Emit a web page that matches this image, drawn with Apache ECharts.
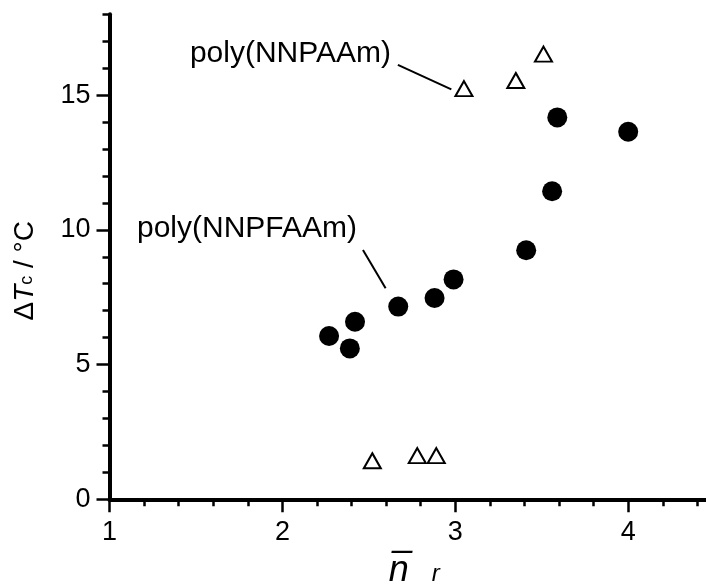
<!DOCTYPE html>
<html>
<head>
<meta charset="utf-8">
<script src="https://cdn.jsdelivr.net/npm/echarts@6/dist/echarts.min.js"></script>
<style>html,body{margin:0;padding:0;background:#fff}#c{width:706px;height:587px}</style>
</head>
<body>
<div id="c"></div>
<script>
// ---- data ----
var nnpfaamX = [2.27, 2.42, 2.39, 2.67, 2.88, 2.99, 3.41, 3.56, 3.59, 4.00];
var nnpfaamY = [6.06, 6.59, 5.60, 7.15, 7.47, 8.16, 9.24, 11.43, 14.17, 13.64];
var nnpaamX = [2.52, 2.78, 2.89, 3.05, 3.35, 3.51];
var nnpaamY = [1.43, 1.62, 1.62, 15.24, 15.54, 16.52];
var xMajorTicks = [1, 2, 3, 4];
var xMinorTicks = [1.2, 1.4, 1.6, 1.8, 2.2, 2.4, 2.6, 2.8, 3.2, 3.4, 3.6, 3.8, 4.2, 4.4];
var yMajorTicks = [0, 5, 10, 15];
var yMinorTicks = [1, 2, 3, 4, 6, 7, 8, 9, 11, 12, 13, 14, 16, 17, 18];
var labelNNPAAm = 'poly(NNPAAm)';
var labelNNPFAAm = 'poly(NNPFAAm)';
var labelAnchorNNPAAm = [1.465, 16.54];
var labelAnchorNNPFAAm = [1.159, 10.05];
var leaderNNPAAm = [[2.668, 16.12], [2.977, 15.21]];
var leaderNNPFAAm = [[2.466, 9.25], [2.597, 7.83]];

var FONT = '"Liberation Sans", Arial, Helvetica, sans-serif';
function zip(a, b) { return a.map(function (v, i) { return [v, b[i]]; }); }

var chart = echarts.init(document.getElementById('c'), null, { renderer: 'canvas' });

var xBase = { type: 'value', min: 1, max: 4.45, gridIndex: 0, position: 'bottom', splitLine: { show: false } };
var yBase = { type: 'value', min: 0, max: 18, gridIndex: 0, position: 'left', splitLine: { show: false } };

var option = {
  animation: false,
  backgroundColor: '#fff',
  grid: { left: 109.5, right: 0, top: 14.2, bottom: 87.7, containLabel: false, outerBoundsMode: 'none' },
  xAxis: [
    Object.assign({}, xBase, {
      name: '{n|n\u0305}{r|r}',
      nameLocation: 'middle',
      nameGap: 54,
      nameTextStyle: {
        padding: [0, 0, 0, 13],
        rich: {
          n: { fontFamily: FONT, fontStyle: 'italic', fontSize: 36, color: '#000' },
          r: { fontFamily: FONT, fontStyle: 'italic', fontSize: 24, color: '#000', padding: [6, 0, 0, 23] }
        }
      },
      axisLine: { show: true, onZero: false, lineStyle: { color: '#000', width: 4 } },
      axisTick: { show: true, inside: false, length: 13, customValues: xMajorTicks, lineStyle: { color: '#000', width: 2.5 } },
      axisLabel: { show: true, customValues: xMajorTicks, margin: 20, fontFamily: FONT, fontSize: 27, color: '#000' }
    }),
    Object.assign({}, xBase, {
      axisLine: { show: false },
      axisTick: { show: true, inside: false, length: 7, customValues: xMinorTicks, lineStyle: { color: '#000', width: 2.5 } },
      axisLabel: { show: false }
    })
  ],
  yAxis: [
    Object.assign({}, yBase, {
      name: '{d|\u0394}{t|T}{s|c}{u| / \u00b0C}',
      nameLocation: 'middle',
      nameRotate: 90,
      nameGap: 70,
      nameTextStyle: {
        padding: [0, 28, 0, 0],
        rich: {
          d: { fontFamily: FONT, fontSize: 28, color: '#000' },
          t: { fontFamily: FONT, fontStyle: 'italic', fontSize: 28, color: '#000' },
          s: { fontFamily: FONT, fontSize: 18, color: '#000', padding: [3, 0, 0, 0] },
          u: { fontFamily: FONT, fontSize: 28, color: '#000' }
        }
      },
      axisLine: { show: true, onZero: false, lineStyle: { color: '#000', width: 4 } },
      axisTick: { show: true, inside: false, length: 13, customValues: yMajorTicks, lineStyle: { color: '#000', width: 2.5 } },
      axisLabel: { show: true, customValues: yMajorTicks, margin: 19, fontFamily: FONT, fontSize: 27, color: '#000' }
    }),
    Object.assign({}, yBase, {
      axisLine: { show: false },
      axisTick: { show: true, inside: false, length: 7, customValues: yMinorTicks, lineStyle: { color: '#000', width: 2.5 } },
      axisLabel: { show: false }
    })
  ],
  series: [
    {
      name: labelNNPFAAm,
      type: 'scatter',
      xAxisIndex: 0, yAxisIndex: 0,
      symbol: 'circle',
      symbolSize: 20,
      itemStyle: { color: '#000', opacity: 1 },
      data: zip(nnpfaamX, nnpfaamY),
      markLine: {
        silent: true, symbol: ['none', 'none'], label: { show: false },
        lineStyle: { color: '#000', width: 2, type: 'solid' },
        data: [[{ coord: leaderNNPFAAm[0] }, { coord: leaderNNPFAAm[1] }]]
      }
    },
    {
      name: labelNNPAAm,
      type: 'scatter',
      xAxisIndex: 0, yAxisIndex: 0,
      symbol: 'triangle',
      symbolSize: [17, 15],
      itemStyle: { color: '#fff', borderColor: '#000', borderWidth: 2, opacity: 1 },
      data: zip(nnpaamX, nnpaamY),
      markLine: {
        silent: true, symbol: ['none', 'none'], label: { show: false },
        lineStyle: { color: '#000', width: 2, type: 'solid' },
        data: [[{ coord: leaderNNPAAm[0] }, { coord: leaderNNPAAm[1] }]]
      }
    }
  ]
};
chart.setOption(option);

var p1 = chart.convertToPixel({ xAxisIndex: 0, yAxisIndex: 0 }, labelAnchorNNPAAm);
var p2 = chart.convertToPixel({ xAxisIndex: 0, yAxisIndex: 0 }, labelAnchorNNPFAAm);
chart.setOption({
  graphic: [
    { type: 'text', x: p1[0], y: p1[1], style: { text: labelNNPAAm, fontFamily: FONT, fontSize: 30, fill: '#000', align: 'left', verticalAlign: 'middle' } },
    { type: 'text', x: p2[0], y: p2[1], style: { text: labelNNPFAAm, fontFamily: FONT, fontSize: 30, fill: '#000', align: 'left', verticalAlign: 'middle' } }
  ]
});
</script>
</body>
</html>
